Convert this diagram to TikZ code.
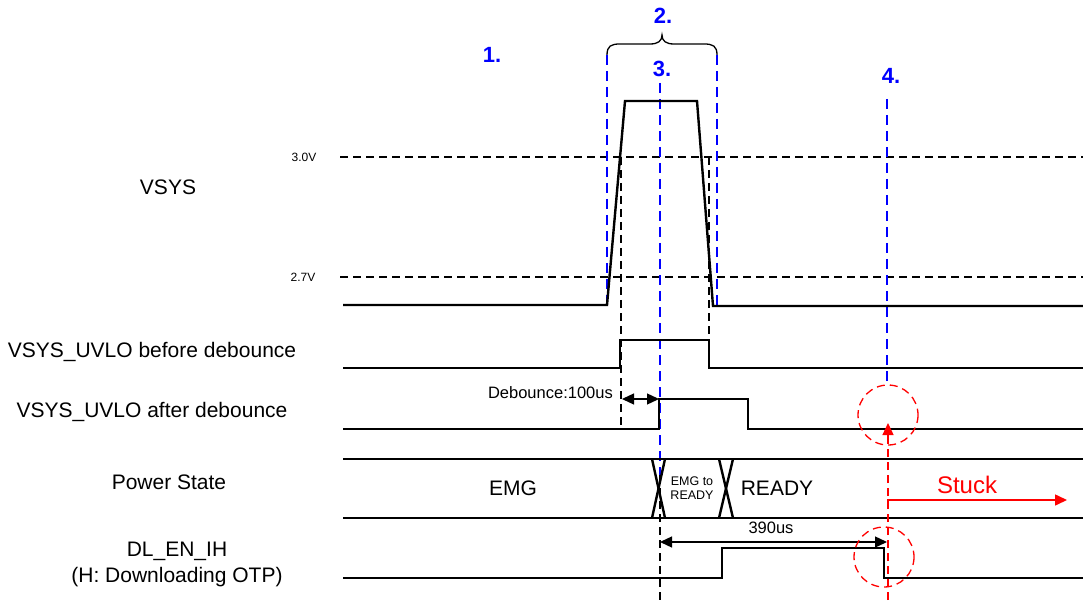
\documentclass[tikz,border=0pt]{standalone}
\usepackage{fontspec}
\setmainfont{Liberation Sans}
\usetikzlibrary{arrows.meta}
\begin{document}
\begin{tikzpicture}[x=1pt,y=-1pt,
  wave/.style={line width=2.4pt, line join=miter},
  thr/.style={line width=1.2pt, dash pattern=on 8pt off 5pt},
  bdash/.style={blue, line width=1.4pt, dash pattern=on 10pt off 6pt},
  kdash/.style={black, line width=1.3pt, dash pattern=on 8pt off 5pt},
  rdash/.style={red, line width=1.3pt, dash pattern=on 8pt off 5pt},
  lbl/.style={font=\fontsize{21}{26}\selectfont, align=center, inner sep=0pt},
  small/.style={font=\fontsize{12}{14}\selectfont, align=center, inner sep=0pt},
  mid/.style={font=\fontsize{16.5}{19}\selectfont, inner sep=0pt},
  num/.style={text=blue, font=\fontsize{22}{26}\selectfont\bfseries, inner sep=0pt},
  tip/.style={-{Triangle[length=12pt,width=11pt]}},
  dtip/.style={{Triangle[length=12pt,width=11pt]}-{Triangle[length=12pt,width=11pt]}}
]
\useasboundingbox (0,0) rectangle (1083,601);

% ---------- labels on the left
\node[lbl] (lvsys) at (168,187) {VSYS};
\node[lbl] (lbef) at (152,352) {VSYS\_UVLO before debounce};
\node[lbl] (laft) at (152,412) {VSYS\_UVLO after debounce};
\node[lbl] (lps) at (169,482) {Power State};
\node[lbl] (ldl) at (177,564) {DL\_EN\_IH\\(H: Downloading OTP)};

% ---------- thresholds
\node[small] (l30) at (304,157) {3.0V};
\node[small] (l27) at (303,277) {2.7V};
\draw[thr] (340,157) -- (1083,157);
\draw[thr] (340,277) -- (1083,277);

% ---------- step numbers and brace
\node[num] (n1) at (492,55) {1.};
\node[num] (n2) at (663,16) {2.};
\node[num] (n3) at (662,69) {3.};
\node[num] (n4) at (891,76) {4.};
\draw[line width=1.3pt] (607,55) .. controls (607,46) and (611,44) .. (620,44) -- (650,44)
  .. controls (658,44) and (662,41) .. (662,35) .. controls (662,41) and (666,44) .. (674,44)
  -- (704,44) .. controls (713,44) and (717,46) .. (717,55);

% ---------- blue dashed markers
\draw[bdash] (607,55) -- (607,305);
\draw[bdash] (717,55) -- (717,305);
\draw[bdash] (660,83) -- (660,475);
\draw[bdash] (887,99) -- (887,385);

% ---------- black dashed markers
\draw[kdash] (621,157) -- (621,425);
\draw[kdash] (709,157) -- (709,340);
\draw[kdash] (660,475) -- (660,600);

% ---------- VSYS
\draw[wave] (343,305) -- (607,305) -- (625,101) -- (697,101) -- (713,306) -- (1083,306);

% ---------- VSYS_UVLO before debounce
\draw[wave] (343,368) -- (620,368) -- (620,340) -- (709,340) -- (709,368) -- (1083,368);

% ---------- VSYS_UVLO after debounce
\draw[wave] (343,429) -- (659,429) -- (659,399) -- (748,399) -- (748,429) -- (1083,429);
\coordinate (db1) at (622,399);
\coordinate (db2) at (659,399);
\draw[line width=1.3pt, dtip] (db1) -- (db2);
\node[mid, anchor=east] (ldb) at (613,393) {Debounce:100us};

% ---------- Power State bus
\draw[wave] (343,459) -- (1083,459);
\draw[wave] (343,518) -- (1083,518);
\draw[wave] (652,459) -- (665,518);
\draw[wave] (665,459) -- (652,518);
\draw[wave] (719,459) -- (733,518);
\draw[wave] (733,459) -- (719,518);
\node[lbl] (semg) at (513,488) {EMG};
\node[small, font=\fontsize{12.5}{13.5}\selectfont] (sto) at (692,488) {EMG to\\READY};
\node[lbl] (srdy) at (777,488) {READY};

% ---------- 390us
\coordinate (t1) at (660,542);
\coordinate (t2) at (887,542);
\draw[line width=1.3pt, dtip] (t1) -- (t2);
\node[mid] (l390) at (771,528) {390us};

% ---------- DL_EN_IH
\draw[wave] (343,578) -- (722,578) -- (722,548) -- (884,548) -- (884,578) -- (1083,578);

% ---------- red annotations
\draw[rdash] (888,415) circle (30);
\draw[rdash] (884,557) circle (30);
\draw[rdash] (888,600) -- (888,436);
\coordinate (ra1) at (888,437);
\coordinate (ra2) at (888,423);
\draw[red, line width=1.3pt, tip] (ra1) -- (ra2);
\coordinate (s0) at (888,508);
\coordinate (s1) at (1067,500);
\draw[red, line width=1.5pt, tip] (s0) |- (s1);
\node[lbl, text=red, font=\fontsize{24}{28}\selectfont] (lstuck) at (967,485) {Stuck};
\end{tikzpicture}
\end{document}
